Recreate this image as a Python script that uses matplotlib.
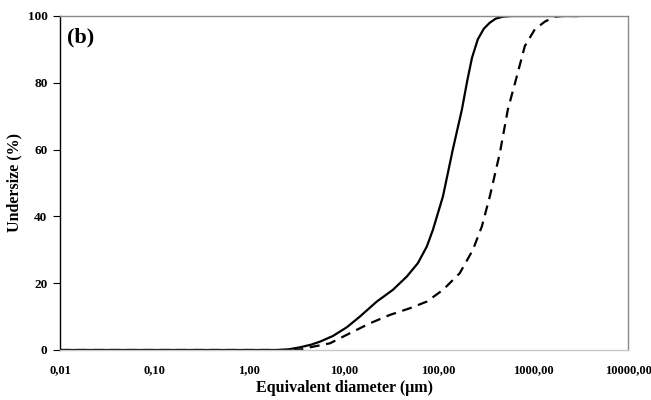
import numpy as np
import matplotlib
matplotlib.use('Agg')
import matplotlib.pyplot as plt

# ===================== Dados =====================
# curva continua (diametro em um, passante acumulado em %)
d_cont = [0.01, 0.1, 1.0, 2.0, 2.6, 3.42, 4.5, 5.57, 7.64, 10.7, 14.7, 22.2, 32.8,
          46.1, 60.3, 75.0, 87.0, 111, 141, 176, 200, 225, 259, 300, 347, 400, 476,
          600, 1000, 3000]
u_cont = [0, 0, 0, 0, 0.2, 0.8, 1.6, 2.5, 4.2, 6.8, 10.0, 14.5, 18.0,
          22.0, 26.0, 31.0, 36.0, 46.0, 60.0, 72.0, 80.5, 87.5, 93.0, 96.2, 98.0, 99.2, 99.8,
          100, 100, 100]

# curva tracejada
d_trac = [0.01, 0.1, 1.0, 3.0, 3.6, 4.36, 7.1, 11.5, 18.8, 30.5, 49.6, 75.0, 111,
          167, 230, 286, 347, 443, 538, 670, 813, 1037, 1321, 1687, 2000, 3000]
u_trac = [0, 0, 0, 0, 0.2, 0.8, 2.0, 5.0, 8.0, 10.5, 12.5, 14.5, 18.0,
          23.0, 30.0, 37.0, 46.0, 59.0, 72.0, 82.0, 91.0, 96.0, 98.3, 99.8, 100, 100]

xticks = [0.01, 0.1, 1, 10, 100, 1000, 10000]
xtick_labels = ['0,01', '0,10', '1,00', '10,00', '100,00', '1000,00', '10000,00']
yticks = [0, 20, 40, 60, 80, 100]

# ================ Grafico ================
plt.rcParams['font.family'] = ['Liberation Serif', 'DejaVu Serif']
plt.rcParams['font.weight'] = 'bold'

fig = plt.figure(figsize=(6.51, 4.00), dpi=100)
ax = fig.add_axes([60 / 651, 50 / 400, 568 / 651, 334 / 400])

ax.plot(d_cont, u_cont, color='black', lw=1.6, solid_capstyle='butt', solid_joinstyle='round')
ax.plot(d_trac, u_trac, color='black', lw=1.6, linestyle=(0, (4.5, 3)))

ax.set_xscale('log')
ax.set_xlim(0.01, 10000)
ax.set_ylim(0, 100)

ax.set_xticks(xticks)
ax.set_xticklabels(xtick_labels)
ax.minorticks_off()
ax.set_yticks(yticks)

ax.tick_params(axis='x', direction='inout', length=4, width=1.2, color='white',
               labelsize=9, pad=8)
ax.tick_params(axis='y', direction='out', length=5, width=0.8, color='black',
               labelsize=9.5, pad=4)
for lbl in ax.get_xticklabels() + ax.get_yticklabels():
    lbl.set_fontweight('bold')

ax.spines['left'].set_color('black')
ax.spines['left'].set_linewidth(1.0)
ax.spines['bottom'].set_color('#c8c8c8')
ax.spines['top'].set_color('#8a8a8a')
ax.spines['right'].set_color('#8a8a8a')
for s in ['bottom', 'top', 'right']:
    ax.spines[s].set_linewidth(1.0)

ax.set_xlabel('Equivalent diameter (\u03bcm)', fontsize=11.5, fontweight='bold', labelpad=3)
ax.set_ylabel('Undersize (%)', fontsize=11.5, fontweight='bold', labelpad=4)

ax.text(0.013, 0.935, '(b)', transform=ax.transAxes, fontsize=16, fontweight='bold',
        va='center', ha='left')

plt.savefig('out.png', dpi=100)
plt.close()
